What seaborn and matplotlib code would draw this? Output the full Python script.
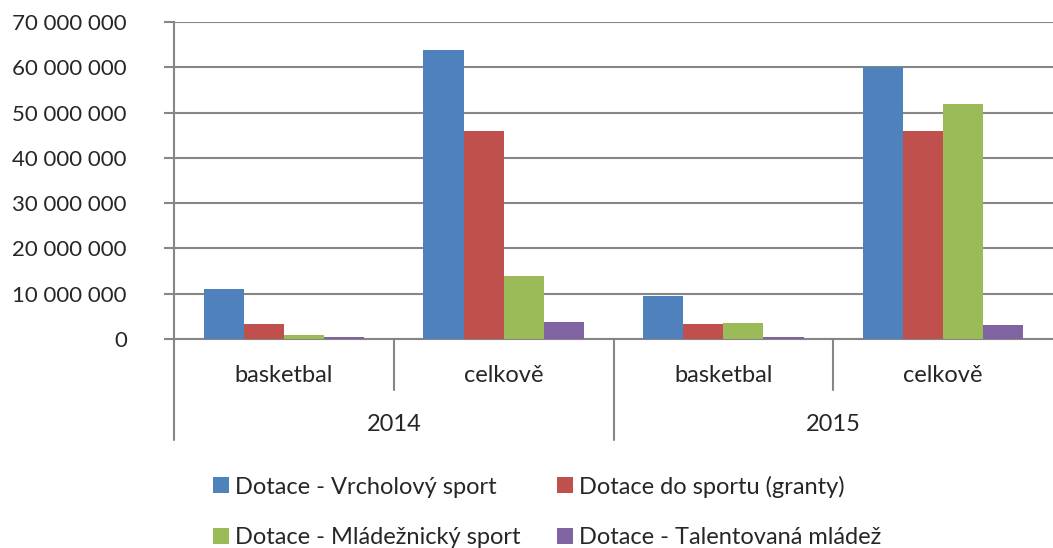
import pandas as pd
import seaborn as sns
import matplotlib.pyplot as plt
from matplotlib.ticker import FuncFormatter
from matplotlib.lines import Line2D

# --- data ---
years = ["2014", "2014", "2015", "2015"]
categories = ["basketbal", "celkově", "basketbal", "celkově"]
series = [
    "Dotace - Vrcholový sport",
    "Dotace do sportu (granty)",
    "Dotace - Mládežnický sport",
    "Dotace - Talentovaná mládež",
]
vrcholovy = [11000000, 63800000, 9500000, 60000000]
granty = [3300000, 45900000, 3300000, 45900000]
mladeznicky = [800000, 13900000, 3500000, 51900000]
talentovana = [500000, 3750000, 450000, 3100000]
colors = ["#4F81BD", "#C0504D", "#9BBB59", "#8064A2"]

rows = []
for name, vals in zip(series, [vrcholovy, granty, mladeznicky, talentovana]):
    for i, v in enumerate(vals):
        rows.append({"slot": f"{years[i]} {categories[i]}", "serie": name, "value": v})
df = pd.DataFrame(rows)

sns.set_style("white")
plt.rcParams["font.family"] = ["Lato", "DejaVu Sans"]

fig = plt.figure(figsize=(10.53, 5.48), dpi=100)
ax = fig.add_axes([174 / 1053, 1 - 339 / 548, 1 - 174 / 1053, 317 / 548])

sns.barplot(data=df, x="slot", y="value", hue="serie", palette=colors,
            width=0.73, saturation=1, linewidth=0, ax=ax, legend=True)
for p in ax.patches:
    p.set_zorder(3)

grid_c = "#868686"
ax.set_ylim(0, 70000000)
ax.set_xlim(-0.5, 3.5)
ax.set_yticks(range(0, 70000001, 10000000))
ax.yaxis.set_major_formatter(FuncFormatter(lambda v, p: f"{int(v):,}".replace(",", " ")))
ax.grid(axis="y", color=grid_c, linewidth=1.5, zorder=0)
ax.set_axisbelow(True)
ax.tick_params(axis="y", which="major", direction="out", length=7, width=1.5,
               color=grid_c, labelsize=16, pad=27, left=True)
ax.tick_params(axis="x", bottom=False, labelbottom=False)
ax.set_xlabel("")
ax.set_ylabel("")
for s in ["top", "right"]:
    ax.spines[s].set_visible(False)
for s in ["left", "bottom"]:
    ax.spines[s].set_color(grid_c)
    ax.spines[s].set_linewidth(1.5)
    ax.spines[s].set_zorder(1)

# multi-level category axis
tr = ax.get_xaxis_transform()
for x, y0 in [(-0.5, -0.319), (0.5, -0.161), (1.5, -0.319), (2.5, -0.161)]:
    ax.add_line(Line2D([x, x], [0, y0], transform=tr, color=grid_c,
                       linewidth=1.5, clip_on=False))
for i, c in enumerate(categories):
    ax.text(i, -0.114, c, transform=tr, ha="center", va="center", fontsize=17)
for i, yr in enumerate(["2014", "2015"]):
    ax.text(2 * i + 0.5, -0.271, yr, transform=tr, ha="center", va="center", fontsize=17)

# legend, two rows
handles, labels = ax.get_legend_handles_labels()
ax.get_legend().remove()
order = [0, 2, 1, 3]
fig.legend([handles[i] for i in order], [labels[i] for i in order],
           loc="center left", bbox_to_anchor=(213 / 1053, 0.066), ncol=2, frameon=False,
           fontsize=17, handlelength=0.68, handleheight=0.68, handletextpad=0.25,
           columnspacing=1.55, labelspacing=1.25, borderpad=0, borderaxespad=0)

fig.savefig("out.png", dpi=100)
